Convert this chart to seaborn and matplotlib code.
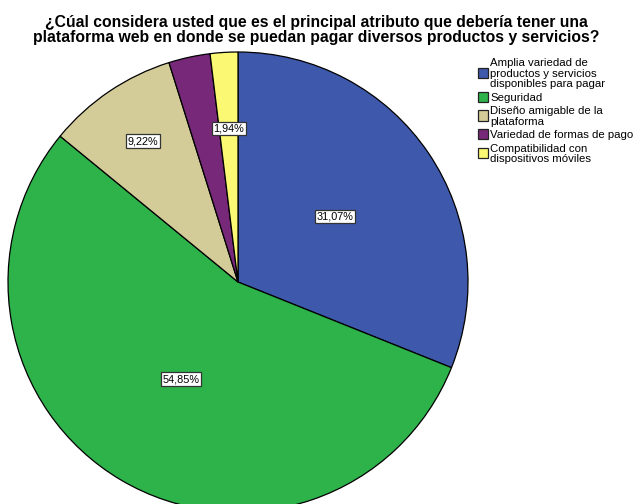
import numpy as np
import matplotlib
matplotlib.use("Agg")
import matplotlib.pyplot as plt
from matplotlib.patches import Rectangle
import seaborn as sns

sns.set_style("white")
plt.rcParams['font.family'] = ['Liberation Sans', 'DejaVu Sans']
plt.rcParams['text.color'] = 'black'

categories = [
    "Amplia variedad de\nproductos y servicios\ndisponibles para pagar",
    "Seguridad",
    "Diseño amigable de la\nplataforma",
    "Variedad de formas de pago",
    "Compatibilidad con\ndispositivos móviles",
]
percentages = [31.07, 54.85, 9.22, 2.91, 1.94]
shown_labels = ["31,07%", "54,85%", "9,22%", None, "1,94%"]
colors = ["#3E58AC", "#2DB34A", "#D4CC98", "#782878", "#FBF873"]

title_lines = [
    "¿Cúal considera usted que es el principal atributo que debería tener una",
    "plataforma web en donde se puedan pagar diversos productos y servicios?",
]

W, H = 634, 504
fig = plt.figure(figsize=(W / 100, H / 100), dpi=100)
fig.patch.set_facecolor("white")

# pie axes in pixel units: centre (238, 282 from top), radius 230
cx, cy, r = 238, H - 282, 230
ax = fig.add_axes([(cx - r) / W, (cy - r) / H, 2 * r / W, 2 * r / H])
wedges, _ = ax.pie(percentages, colors=colors, startangle=90, counterclock=False,
                   radius=1.0, wedgeprops=dict(edgecolor="black", linewidth=0.9))
ax.set_xlim(-1, 1)
ax.set_ylim(-1, 1)
ax.set_aspect("equal")
ax.axis("off")

# value labels in white boxes
label_dist = [0.51, 0.49, 0.74, 0.6, 0.67]
start = 90.0
for pct, lab, d in zip(percentages, shown_labels, label_dist):
    mid = start - pct * 3.6 / 2
    start -= pct * 3.6
    if lab is None:
        continue
    a = np.deg2rad(mid)
    ax.text(d * np.cos(a), d * np.sin(a), lab, ha="center", va="center", fontsize=7.8,
            bbox=dict(boxstyle="square,pad=0.15", fc="white", ec="#333333", lw=0.9))

# title, one line at a time
for line, base in zip(title_lines, [26.5, 41.8]):
    fig.text(316 / W, 1 - base / H, line, ha="center", va="baseline",
             fontsize=11.3, fontweight="bold")

# legend
lx, ty = 478, 57
line_h = 10.5
gap = 3
y = ty
for cat, col in zip(categories, colors):
    lines = cat.split("\n")
    block_h = len(lines) * line_h
    mid_y = y + block_h / 2
    sq = 10
    fig.patches.append(Rectangle((lx / W, (H - mid_y - sq / 2) / H), sq / W, sq / H,
                                 transform=fig.transFigure, fc=col, ec="#222222", lw=0.9))
    for i, part in enumerate(lines):
        ly = y + (i + 0.5) * line_h
        fig.text((lx + 12) / W, 1 - ly / H, part, ha="left", va="center_baseline",
                 fontsize=8.2)
    y += block_h + gap

fig.savefig("out.png", dpi=100, facecolor="white")
